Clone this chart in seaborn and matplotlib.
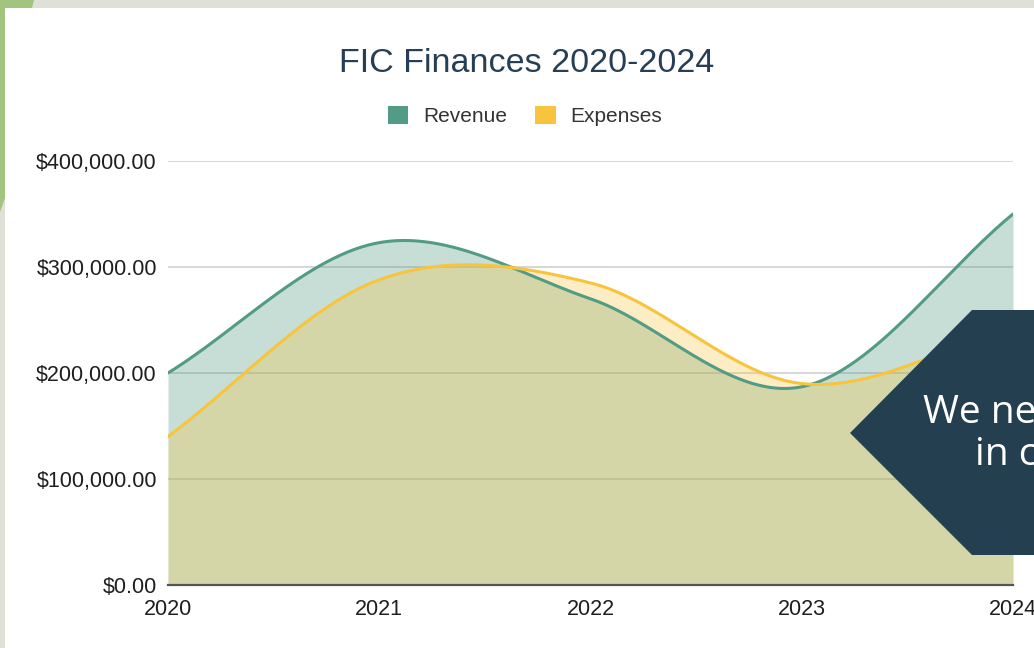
import numpy as np
import pandas as pd
import seaborn as sns
import matplotlib
matplotlib.use("Agg")
import matplotlib.pyplot as plt
from matplotlib.patches import Patch, Polygon, Rectangle
from matplotlib.ticker import FuncFormatter

# ---------------- data ----------------
years = [2020, 2021, 2022, 2023, 2024]
revenue = [200000, 323000, 270000, 187000, 350000]
expenses = [140000, 288000, 285000, 190000, 242000]
series_names = ["Revenue", "Expenses"]
y_ticks = [0, 100000, 200000, 300000, 400000]
title = "FIC Finances 2020-2024"
callout_lines = ["We need", "in c"]

REV_C = "#529b85"
EXP_C = "#f8c43e"

W, H = 1034, 648
sns.set_theme(style="white")
plt.rcParams["font.family"] = ["Liberation Sans", "DejaVu Sans"]

fig = plt.figure(figsize=(W / 100, H / 100), dpi=100, facecolor="#dfe0d7")

def fx(px):
    return px / W

def fy(py):
    return 1 - py / H

# background decorations (behind the chart)
fig.patches.append(Polygon([(fx(0), fy(0)), (fx(34), fy(0)), (fx(32), fy(8)), (fx(5), fy(8)),
                            (fx(5), fy(198)), (fx(0), fy(212))], closed=True,
                           transform=fig.transFigure, facecolor="#a3c47e", edgecolor="none", zorder=-5))
fig.patches.append(Rectangle((fx(5), 0), 1 - fx(5), fy(8), transform=fig.transFigure,
                             facecolor="white", edgecolor="none", zorder=-4))


def catmull(xs, ys, n=60):
    xs = np.asarray(xs, float)
    ys = np.asarray(ys, float)
    k = len(xs)
    m = np.zeros(k)
    for i in range(k):
        if i == 0:
            m[i] = (ys[1] - ys[0]) / (xs[1] - xs[0])
        elif i == k - 1:
            m[i] = (ys[-1] - ys[-2]) / (xs[-1] - xs[-2])
        else:
            m[i] = (ys[i + 1] - ys[i - 1]) / (xs[i + 1] - xs[i - 1])
    ox, oy = [], []
    for i in range(k - 1):
        h = xs[i + 1] - xs[i]
        t = np.linspace(0, 1, n, endpoint=(i == k - 2))
        h00 = 2 * t**3 - 3 * t**2 + 1
        h10 = t**3 - 2 * t**2 + t
        h01 = -2 * t**3 + 3 * t**2
        h11 = t**3 - t**2
        oy.append(h00 * ys[i] + h10 * h * m[i] + h01 * ys[i + 1] + h11 * h * m[i + 1])
        ox.append(xs[i] + t * h)
    return np.concatenate(ox), np.concatenate(oy)

ax = fig.add_axes([fx(168), fy(585), fx(1013) - fx(168), fy(161) - fy(585)])
ax.set_facecolor("none")
ax.set_zorder(1)

rx, ry = catmull(years, revenue)
ex, ey = catmull(years, expenses)
df = pd.concat([
    pd.DataFrame({"year": rx, "value": ry, "series": series_names[0]}),
    pd.DataFrame({"year": ex, "value": ey, "series": series_names[1]}),
])

ax.fill_between(rx, 0, ry, color=REV_C, alpha=0.32, linewidth=0, zorder=2)
ax.fill_between(ex, 0, ey, color=EXP_C, alpha=0.3, linewidth=0, zorder=3)
sns.lineplot(data=df, x="year", y="value", hue="series", palette=[REV_C, EXP_C],
             linewidth=2.2, ax=ax, legend=False, sort=False, zorder=4)

ax.set_xlim(years[0], years[-1])
ax.set_ylim(y_ticks[0], y_ticks[-1])
ax.set_xticks(years)
ax.set_xticklabels([str(y) for y in years])
ax.set_yticks(y_ticks)
ax.yaxis.set_major_formatter(FuncFormatter(lambda v, p: "${:,.2f}".format(v)))
ax.grid(axis="y", color="#cccccc", linewidth=1.1, zorder=1)
ax.grid(axis="x", visible=False)
for s in ["top", "right", "left"]:
    ax.spines[s].set_visible(False)
ax.spines["bottom"].set_color("#555555")
ax.spines["bottom"].set_linewidth(1.6)
ax.spines["bottom"].set_zorder(6)
ax.set_xlabel("")
ax.set_ylabel("")
ax.tick_params(axis="both", length=0, labelsize=15.5, colors="#1e1e1e")
ax.tick_params(axis="y", pad=8)
ax.tick_params(axis="x", pad=10)

fig.text(fx(527), fy(64), title, ha="center", va="center", fontsize=24.5, color="#263f55")

handles = [Patch(facecolor=REV_C, edgecolor="none"), Patch(facecolor=EXP_C, edgecolor="none")]
fig.legend(handles, series_names, loc="center", bbox_to_anchor=(fx(525), fy(116)), ncol=2,
           frameon=False, fontsize=15, handlelength=1.0, handleheight=1.0, handletextpad=0.7,
           columnspacing=1.35, labelcolor="#333333")

# callout arrow shape
fig.patches.append(Polygon([(fx(850), fy(433)), (fx(972), fy(310)), (fx(1040), fy(310)),
                            (fx(1040), fy(555)), (fx(972), fy(555))], closed=True,
                           transform=fig.transFigure, facecolor="#243f50", edgecolor="none", zorder=10))
fig.text(fx(923), fy(423), callout_lines[0], ha="left", va="baseline", fontsize=28,
         color="white", family=["Open Sans", "DejaVu Sans"], zorder=11)
fig.text(fx(975), fy(465), callout_lines[1], ha="left", va="baseline", fontsize=28,
         color="white", family=["Open Sans", "DejaVu Sans"], zorder=11)

fig.savefig("out.png", dpi=100, facecolor=fig.get_facecolor())
